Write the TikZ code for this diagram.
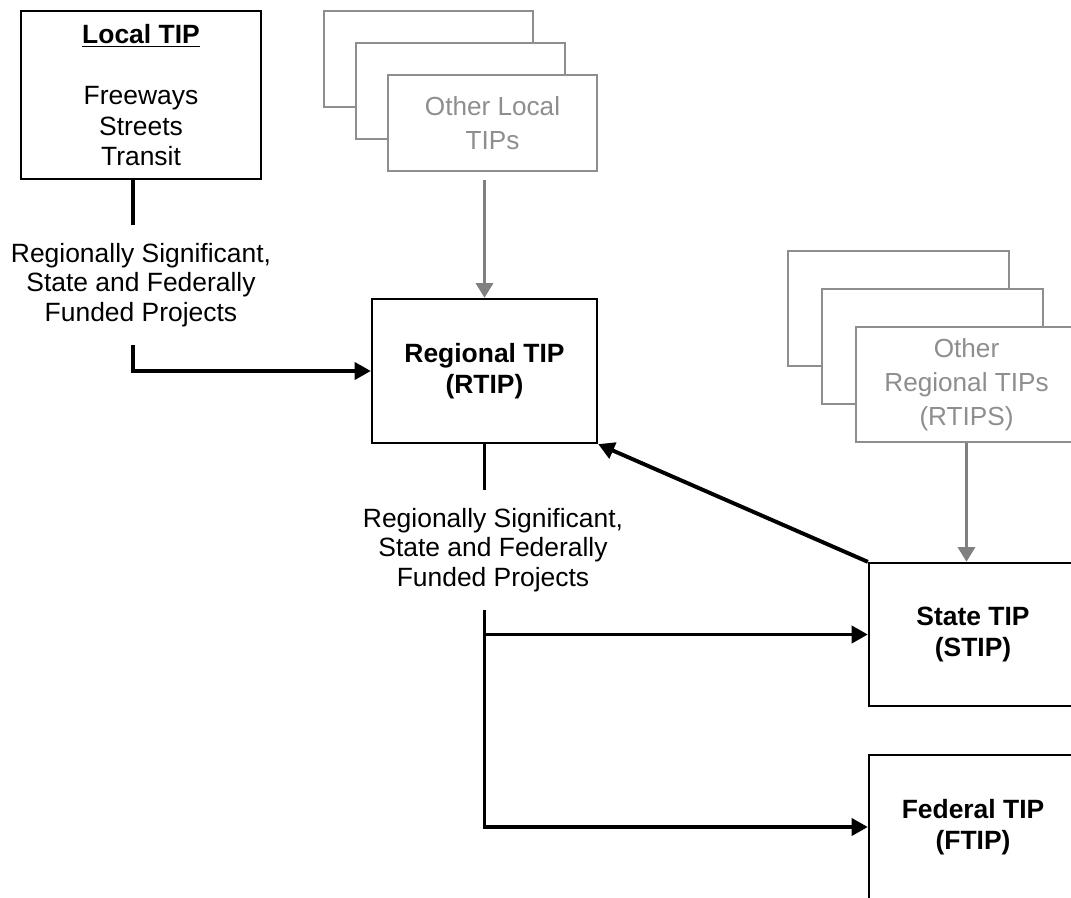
\documentclass[tikz,border=0pt]{standalone}
\usepackage{fontspec}
\setmainfont{Liberation Sans}
\usetikzlibrary{positioning,calc,arrows.meta}
\definecolor{tip_gray}{HTML}{8E8E8E}
\definecolor{tip_darkgray}{HTML}{808080}
\newcommand{\pxu}{0.025cm}
\tikzset{
  tipbox/.style={rectangle, draw=black, fill=white, line width=1.6pt,
                 align=center, inner sep=0pt,
                 font=\fontsize{18.8}{22}\selectfont\bfseries},
  localbox/.style={tipbox, font=\fontsize{18.8}{21.5}\selectfont},
  otherbox/.style={tipbox, draw=tip_gray, text=tip_gray, line width=1.4pt,
                   font=\fontsize{18.6}{24}\selectfont},
  fundlabel/.style={align=center, inner xsep=0pt, inner ysep=13pt,
                    font=\fontsize{18.8}{21}\selectfont},
  link/.style={draw=black, line width=2.8pt},
  flow/.style={link, -{Triangle[length=11.5pt, width=12pt]}},
  grayflow/.style={draw=tip_darkgray, line width=2.5pt,
                   -{Triangle[length=10.5pt, width=12pt]}},
}
% three stacked boxes: name, front centre, dx, dy, size options, text
\newcommand{\tipstack}[6]{%
  \foreach \k in {2,1} {%
    \node[otherbox, #5] (#1-\k) at ($#2+(-\k*#3,-\k*#4)$) {};%
  }%
  \node[otherbox, #5] (#1) at #2 {#6};%
}

\begin{document}
\begin{tikzpicture}[x=\pxu, y=-\pxu]
  \useasboundingbox (0,0) rectangle (1071,898);

  % --- local TIPs ----------------------------------------------------------
  \node[localbox, minimum width=240*\pxu, minimum height=168*\pxu] (local)
    at (141,95)
    {\underline{\textbf{Local TIP}}\\[22pt]Freeways\\Streets\\Transit};
  \tipstack{otherlocal}{(492.5,123)}{32}{32}
    {minimum width=209*\pxu, minimum height=96*\pxu}{Other Local\\TIPs}

  % --- regional TIPs -------------------------------------------------------
  \node[tipbox, minimum width=225*\pxu, minimum height=144*\pxu] (rtip)
    at (484.5,371) {Regional TIP\\(RTIP)};
  \tipstack{otherregional}{(966.5,384.5)}{34}{38}
    {minimum width=221*\pxu, minimum height=115*\pxu}
    {Other\\Regional TIPs\\(RTIPS)}

  % --- state and federal TIPs ----------------------------------------------
  \node[tipbox, minimum width=208*\pxu, minimum height=143*\pxu] (stip)
    at (973,634.5) {State TIP\\(STIP)};
  \node[tipbox, minimum width=208*\pxu, minimum height=144*\pxu] (ftip)
    at (973,827) {Federal TIP\\(FTIP)};

  % --- project labels ------------------------------------------------------
  \node[fundlabel] (fundA) at (141,285)
    {Regionally Significant,\\State and Federally\\Funded Projects};
  \node[fundlabel] (fundB) at (493,550)
    {Regionally Significant,\\State and Federally\\Funded Projects};

  % --- connectors ----------------------------------------------------------
  \coordinate (spineA) at (133,0);
  \draw[link] (local.south -| spineA) -- (fundA.north -| spineA);
  \draw[flow] (fundA.south -| spineA) |- (rtip.west);
  \draw[grayflow, shorten <=8*\pxu] (otherlocal.south -| rtip.north) -- (rtip.north);

  \draw[link] (rtip.south) -- (fundB.north -| rtip.south);
  \draw[flow] (fundB.south -| rtip.south) |- (ftip.west);
  \draw[flow] (stip.west -| rtip.south) -- (stip.west);
  \draw[flow] (stip.north west) -- (rtip.south east);
  \draw[grayflow] (otherregional.south) -- (otherregional.south |- stip.north);

\end{tikzpicture}
\end{document}
